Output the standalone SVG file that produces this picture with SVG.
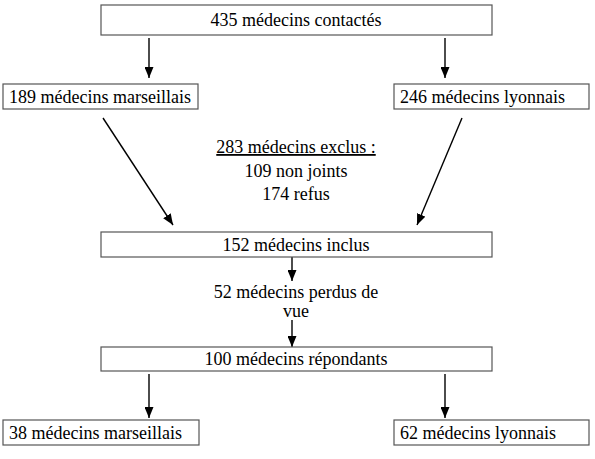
<svg xmlns="http://www.w3.org/2000/svg" width="595" height="459" viewBox="0 0 595 459">
<defs>
<marker id="ah" viewBox="0 0 11 9" refX="11" refY="4.5" markerWidth="11" markerHeight="9" markerUnits="userSpaceOnUse" orient="auto">
<path d="M0,0 L11,4.5 L0,9 z" fill="#000"/>
</marker>
<style>
.box{fill:#fff;stroke:#555;stroke-width:1.2}
.t{font-family:"Liberation Serif","Times New Roman",serif;font-size:18px;fill:#000}
.c{text-anchor:middle}
.a{stroke:#000;stroke-width:1.4;fill:none;marker-end:url(#ah)}
</style>
</defs>
<rect width="595" height="459" fill="#fff"/>
<g id="connectors">
<line class="a" x1="149" y1="38" x2="149" y2="78"/>
<line class="a" x1="445" y1="38" x2="445" y2="78"/>
<line class="a" x1="103" y1="118" x2="173" y2="225"/>
<line class="a" x1="462" y1="118" x2="417" y2="225"/>
<line class="a" x1="292" y1="257" x2="292" y2="281"/>
<line class="a" x1="292" y1="320" x2="292" y2="347"/>
<line class="a" x1="149" y1="374" x2="149" y2="418"/>
<line class="a" x1="445" y1="374" x2="445" y2="418"/>
</g>
<g id="n435">
<rect class="box" x="101" y="5" width="391" height="30"/>
<text class="t c" x="296" y="26">435 médecins contactés</text>
</g>
<g id="n189">
<rect class="box" x="3" y="84" width="195" height="25"/>
<text class="t" x="9" y="103">189 médecins marseillais</text>
</g>
<g id="n246">
<rect class="box" x="394" y="84" width="195" height="25"/>
<text class="t" x="400" y="103">246 médecins lyonnais</text>
</g>
<g id="exclus">
<text class="t c" x="296" y="153" text-decoration="underline">283 médecins exclus :</text>
<text class="t c" x="296" y="177">109 non joints</text>
<text class="t c" x="296" y="200">174 refus</text>
</g>
<g id="n152">
<rect class="box" x="101" y="232" width="391" height="25"/>
<text class="t c" x="296" y="251">152 médecins inclus</text>
</g>
<g id="perdus">
<text class="t c" x="296" y="298">52 médecins perdus de</text>
<text class="t c" x="296" y="317">vue</text>
</g>
<g id="n100">
<rect class="box" x="101" y="347" width="391" height="24"/>
<text class="t c" x="296" y="365">100 médecins répondants</text>
</g>
<g id="n38">
<rect class="box" x="3" y="420" width="196" height="25"/>
<text class="t" x="9" y="439">38 médecins marseillais</text>
</g>
<g id="n62">
<rect class="box" x="394" y="420" width="195" height="25"/>
<text class="t" x="400" y="439">62 médecins lyonnais</text>
</g>
</svg>
